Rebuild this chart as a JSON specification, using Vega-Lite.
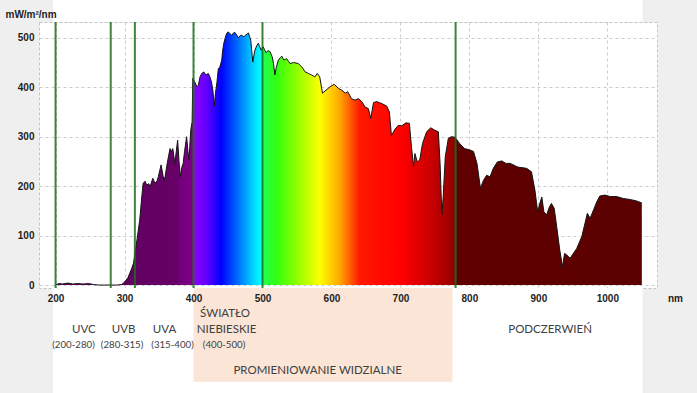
{
  "$schema": "https://vega.github.io/schema/vega-lite/v6.json",
  "width": 618,
  "height": 266,
  "autosize": {"type": "none"},
  "padding": {"left": 39, "top": 22, "right": 40, "bottom": 105},
  "background": "#efefef",
  "view": {"fill": "white", "stroke": "#c4c4c4", "strokeDash": [3, 2], "strokeWidth": 1},
  "datasets": {
    "spectrum": [
      {"nm": 200, "v": 0}, {"nm": 205, "v": 3}, {"nm": 210, "v": 2}, {"nm": 218, "v": 4}, {"nm": 225, "v": 2},
      {"nm": 232, "v": 3}, {"nm": 240, "v": 2}, {"nm": 248, "v": 3}, {"nm": 255, "v": 1}, {"nm": 262, "v": 0},
      {"nm": 275, "v": 0}, {"nm": 290, "v": 0}, {"nm": 296, "v": 1}, {"nm": 300, "v": 6}, {"nm": 305, "v": 15},
      {"nm": 310, "v": 32}, {"nm": 313, "v": 44}, {"nm": 318, "v": 91}, {"nm": 322, "v": 131}, {"nm": 325, "v": 178},
      {"nm": 327, "v": 206}, {"nm": 330, "v": 210}, {"nm": 332, "v": 202}, {"nm": 335, "v": 205}, {"nm": 337, "v": 199},
      {"nm": 341, "v": 216}, {"nm": 344, "v": 206}, {"nm": 347, "v": 210}, {"nm": 349, "v": 219}, {"nm": 353, "v": 243},
      {"nm": 357, "v": 212}, {"nm": 359, "v": 220}, {"nm": 361, "v": 239}, {"nm": 364, "v": 262}, {"nm": 366, "v": 276},
      {"nm": 368, "v": 270}, {"nm": 370, "v": 276}, {"nm": 373, "v": 246}, {"nm": 375, "v": 270}, {"nm": 377, "v": 293},
      {"nm": 379, "v": 250}, {"nm": 381, "v": 219}, {"nm": 383, "v": 238}, {"nm": 385, "v": 246}, {"nm": 387, "v": 270},
      {"nm": 390, "v": 300}, {"nm": 392, "v": 270}, {"nm": 393.5, "v": 253}, {"nm": 396, "v": 313}, {"nm": 398, "v": 330},
      {"nm": 399, "v": 418}, {"nm": 402, "v": 410}, {"nm": 405, "v": 401}, {"nm": 407, "v": 404}, {"nm": 409.5, "v": 421},
      {"nm": 412, "v": 428}, {"nm": 415, "v": 431}, {"nm": 418, "v": 425}, {"nm": 421.5, "v": 428}, {"nm": 424, "v": 420},
      {"nm": 426, "v": 411}, {"nm": 428, "v": 395}, {"nm": 430, "v": 362}, {"nm": 432, "v": 390}, {"nm": 434, "v": 410},
      {"nm": 436, "v": 438}, {"nm": 438, "v": 440}, {"nm": 441, "v": 455}, {"nm": 442, "v": 472}, {"nm": 444, "v": 489},
      {"nm": 446, "v": 500}, {"nm": 448, "v": 509}, {"nm": 450.5, "v": 512}, {"nm": 453, "v": 508}, {"nm": 455.5, "v": 505},
      {"nm": 458, "v": 510}, {"nm": 460, "v": 511}, {"nm": 463, "v": 505}, {"nm": 465, "v": 500}, {"nm": 468, "v": 505},
      {"nm": 470, "v": 505}, {"nm": 473, "v": 502}, {"nm": 475, "v": 505}, {"nm": 478, "v": 508}, {"nm": 479.5, "v": 510},
      {"nm": 482, "v": 500}, {"nm": 483, "v": 495}, {"nm": 485, "v": 465}, {"nm": 486, "v": 451}, {"nm": 488, "v": 468},
      {"nm": 489, "v": 475}, {"nm": 492, "v": 485}, {"nm": 494, "v": 489}, {"nm": 496, "v": 482}, {"nm": 498, "v": 475},
      {"nm": 501, "v": 482}, {"nm": 503, "v": 476}, {"nm": 505, "v": 470}, {"nm": 508, "v": 474}, {"nm": 511, "v": 472},
      {"nm": 514, "v": 462}, {"nm": 516, "v": 448}, {"nm": 518, "v": 425}, {"nm": 520, "v": 440}, {"nm": 523, "v": 455},
      {"nm": 526, "v": 460}, {"nm": 528, "v": 463}, {"nm": 531, "v": 455}, {"nm": 535, "v": 458}, {"nm": 538, "v": 452},
      {"nm": 540, "v": 448}, {"nm": 545, "v": 450}, {"nm": 552, "v": 448}, {"nm": 557, "v": 441}, {"nm": 562, "v": 431},
      {"nm": 566.5, "v": 428}, {"nm": 571, "v": 425}, {"nm": 576, "v": 421}, {"nm": 579.5, "v": 428}, {"nm": 583, "v": 421},
      {"nm": 587, "v": 388}, {"nm": 592, "v": 394}, {"nm": 598, "v": 401}, {"nm": 604, "v": 406}, {"nm": 610, "v": 398},
      {"nm": 615, "v": 394}, {"nm": 620, "v": 388}, {"nm": 623.6, "v": 391}, {"nm": 629, "v": 377}, {"nm": 634, "v": 374},
      {"nm": 639, "v": 377}, {"nm": 644, "v": 371}, {"nm": 648.7, "v": 360}, {"nm": 653.5, "v": 357}, {"nm": 657, "v": 337},
      {"nm": 661, "v": 369}, {"nm": 665.6, "v": 371}, {"nm": 673, "v": 367}, {"nm": 680, "v": 362}, {"nm": 684, "v": 350},
      {"nm": 687, "v": 302}, {"nm": 692, "v": 315}, {"nm": 697, "v": 323}, {"nm": 702, "v": 322}, {"nm": 708, "v": 328},
      {"nm": 713, "v": 327}, {"nm": 716, "v": 280}, {"nm": 719, "v": 239}, {"nm": 721, "v": 266}, {"nm": 724.5, "v": 249},
      {"nm": 728, "v": 253}, {"nm": 732, "v": 286}, {"nm": 738, "v": 310}, {"nm": 744, "v": 318}, {"nm": 750, "v": 313},
      {"nm": 755, "v": 310}, {"nm": 757.5, "v": 246}, {"nm": 760, "v": 142}, {"nm": 762, "v": 178}, {"nm": 765, "v": 259},
      {"nm": 769.5, "v": 297}, {"nm": 774, "v": 300}, {"nm": 779, "v": 299}, {"nm": 786, "v": 286}, {"nm": 793, "v": 276},
      {"nm": 801, "v": 273}, {"nm": 806, "v": 270}, {"nm": 811, "v": 246}, {"nm": 816, "v": 196}, {"nm": 820.5, "v": 212},
      {"nm": 825, "v": 222}, {"nm": 830, "v": 219}, {"nm": 834.7, "v": 236}, {"nm": 840.5, "v": 249}, {"nm": 847, "v": 251},
      {"nm": 853, "v": 246}, {"nm": 859, "v": 246}, {"nm": 864, "v": 243}, {"nm": 869, "v": 239}, {"nm": 873, "v": 238},
      {"nm": 883, "v": 236}, {"nm": 890, "v": 229}, {"nm": 895, "v": 192}, {"nm": 899, "v": 148}, {"nm": 902, "v": 165},
      {"nm": 905, "v": 178}, {"nm": 908, "v": 148}, {"nm": 912, "v": 142}, {"nm": 916, "v": 158}, {"nm": 919, "v": 165},
      {"nm": 923, "v": 155}, {"nm": 926.6, "v": 118}, {"nm": 931, "v": 71}, {"nm": 935, "v": 37}, {"nm": 938, "v": 64},
      {"nm": 941, "v": 61}, {"nm": 946, "v": 54}, {"nm": 955.6, "v": 74}, {"nm": 963, "v": 98}, {"nm": 967.6, "v": 125},
      {"nm": 971, "v": 145}, {"nm": 975, "v": 135}, {"nm": 980, "v": 152}, {"nm": 984.6, "v": 168}, {"nm": 989, "v": 180},
      {"nm": 996.6, "v": 182}, {"nm": 1004, "v": 179}, {"nm": 1013.6, "v": 179}, {"nm": 1023, "v": 175}, {"nm": 1033, "v": 173},
      {"nm": 1042.5, "v": 170}, {"nm": 1050, "v": 166}
    ],
    "bounds": [{"nm": 200}, {"nm": 280}, {"nm": 315}, {"nm": 400}, {"nm": 500}, {"nm": 780}],
    "names": [
      {"label": "UVC", "nm": 241, "v": -91},
      {"label": "UVB", "nm": 298.6, "v": -91},
      {"label": "UVA", "nm": 358, "v": -91},
      {"label": "ŚWIATŁO", "nm": 445.7, "v": -58.6},
      {"label": "NIEBIESKIE", "nm": 448, "v": -91},
      {"label": "PODCZERWIEŃ", "nm": 917, "v": -91},
      {"label": "PROMIENIOWANIE WIDZIALNE", "nm": 580, "v": -173.5}
    ],
    "ranges": [
      {"label": "(200-280)", "nm": 226, "v": -121.7},
      {"label": "(280-315)", "nm": 296.4, "v": -121.7},
      {"label": "(315-400)", "nm": 369.6, "v": -121.7},
      {"label": "(400-500)", "nm": 444.3, "v": -121.7}
    ],
    "visible": [{"start": 400, "end": 775.5}]
  },
  "layer": [
    {
      "data": {"name": "visible"},
      "mark": {"type": "rect", "fill": "white"},
      "encoding": {
        "x": {"datum": 196.4, "type": "quantitative", "scale": {"domain": [176, 1072], "nice": false, "zero": false}, "axis": null},
        "x2": {"datum": 1051},
        "y": {"datum": 532, "type": "quantitative", "scale": {"domain": [-6, 532], "nice": false, "zero": false}, "axis": null},
        "y2": {"datum": 620}
      }
    },
    {
      "data": {"name": "visible"},
      "mark": {"type": "rect", "fill": "white"},
      "encoding": {
        "x": {"datum": 196.4, "type": "quantitative", "scale": {"domain": [176, 1072], "nice": false, "zero": false}, "axis": null},
        "x2": {"datum": 1051},
        "y": {"datum": -6, "type": "quantitative", "scale": {"domain": [-6, 532], "nice": false, "zero": false}, "axis": null},
        "y2": {"datum": -250}
      }
    },
    {
      "data": {"name": "visible"},
      "mark": {"type": "rect", "fill": "#fbe5d6"},
      "encoding": {
        "x": {"field": "start", "type": "quantitative", "scale": {"domain": [176, 1072], "nice": false, "zero": false}, "axis": null},
        "x2": {"field": "end"},
        "y": {"datum": -6, "type": "quantitative", "scale": {"domain": [-6, 532], "nice": false, "zero": false}, "axis": null},
        "y2": {"datum": -195.5}
      }
    },
    {
      "data": {"name": "spectrum"},
      "mark": {
        "type": "area",
        "fill": {
          "gradient": "linear", "x1": 0, "y1": 0, "x2": 1, "y2": 0,
          "stops": [
            {"offset": 0, "color": "#5c005c"},
            {"offset": 0.2059, "color": "#660066"},
            {"offset": 0.2118, "color": "#74007a"},
            {"offset": 0.2341, "color": "#7e0088"},
            {"offset": 0.2353, "color": "#9200ff"},
            {"offset": 0.2588, "color": "#5e00ff"},
            {"offset": 0.2824, "color": "#0000ff"},
            {"offset": 0.3082, "color": "#0062ff"},
            {"offset": 0.3318, "color": "#00c0ff"},
            {"offset": 0.3494, "color": "#00ffff"},
            {"offset": 0.3553, "color": "#20ff50"},
            {"offset": 0.3765, "color": "#30ff10"},
            {"offset": 0.4118, "color": "#90ff00"},
            {"offset": 0.4506, "color": "#ffff00"},
            {"offset": 0.4847, "color": "#ffa800"},
            {"offset": 0.5188, "color": "#ff1800"},
            {"offset": 0.5882, "color": "#ff0000"},
            {"offset": 0.6388, "color": "#cc0000"},
            {"offset": 0.6788, "color": "#960000"},
            {"offset": 0.6835, "color": "#600000"},
            {"offset": 1, "color": "#5a0000"}
          ]
        }
      },
      "encoding": {
        "x": {
          "field": "nm", "type": "quantitative",
          "scale": {"domain": [176, 1072], "nice": false, "zero": false},
          "axis": {"orient": "bottom", "grid": true, "gridColor": "#cccccc", "gridDash": [3, 3], "gridWidth": 1, "labels": false, "ticks": false, "domain": false, "title": null, "values": [200, 300, 400, 500, 600, 700, 800, 900, 1000], "zindex": 0}
        },
        "y": {
          "field": "v", "type": "quantitative",
          "scale": {"domain": [-6, 532], "nice": false, "zero": false},
          "axis": {"orient": "left", "grid": true, "gridColor": "#cccccc", "gridDash": [3, 3], "gridWidth": 1, "labels": false, "ticks": false, "domain": false, "title": null, "values": [0, 100, 200, 300, 400, 500], "zindex": 0}
        },
        "y2": {"datum": 0}
      }
    },
    {
      "data": {"name": "spectrum"},
      "mark": {"type": "line", "stroke": "#141414", "strokeWidth": 1},
      "encoding": {
        "x": {
          "field": "nm", "type": "quantitative",
          "scale": {"domain": [176, 1072], "nice": false, "zero": false},
          "axis": {"orient": "bottom", "grid": false, "ticks": false, "domain": false, "values": [200, 300, 400, 500, 600, 700, 800, 900, 1000], "format": "d",
                   "labelFont": "Liberation Sans", "labelFontWeight": "bold", "labelFontSize": 10, "labelColor": "#1e1e1e", "labelPadding": 5,
                   "title": "nm", "titleFont": "Liberation Sans", "titleFontWeight": "bold", "titleFontSize": 10, "titleColor": "#1e1e1e",
                   "titleX": 636, "titleY": 10, "titleAlign": "center", "titleBaseline": "middle", "titleAngle": 0, "zindex": 1}
        },
        "y": {
          "field": "v", "type": "quantitative",
          "scale": {"domain": [-6, 532], "nice": false, "zero": false},
          "axis": {"orient": "left", "grid": false, "ticks": false, "domain": false, "values": [0, 100, 200, 300, 400, 500], "format": "d",
                   "labelFont": "Liberation Sans", "labelFontWeight": "bold", "labelFontSize": 10, "labelColor": "#1e1e1e", "labelPadding": 5,
                   "title": "mW/m²/nm", "titleFont": "Liberation Sans", "titleFontWeight": "bold", "titleFontSize": 10, "titleColor": "#1e1e1e",
                   "titleAngle": 0, "titleX": -34, "titleY": -8, "titleAlign": "left", "titleBaseline": "middle", "zindex": 1}
        }
      }
    },
    {
      "data": {"name": "bounds"},
      "mark": {"type": "rule", "stroke": "#1c6e1c", "strokeWidth": 2, "opacity": 0.85},
      "encoding": {
        "x": {"field": "nm", "type": "quantitative", "scale": {"domain": [176, 1072], "nice": false, "zero": false}, "axis": null}
      }
    },
    {
      "data": {"name": "names"},
      "mark": {"type": "text", "font": "Lato", "fontSize": 11.5, "fill": "#404040", "align": "center", "baseline": "middle"},
      "encoding": {
        "x": {"field": "nm", "type": "quantitative", "scale": {"domain": [176, 1072], "nice": false, "zero": false}, "axis": null},
        "y": {"field": "v", "type": "quantitative", "scale": {"domain": [-6, 532], "nice": false, "zero": false}, "axis": null},
        "text": {"field": "label"}
      }
    },
    {
      "data": {"name": "ranges"},
      "mark": {"type": "text", "font": "Lato", "fontSize": 9.7, "fill": "#404040", "align": "center", "baseline": "middle"},
      "encoding": {
        "x": {"field": "nm", "type": "quantitative", "scale": {"domain": [176, 1072], "nice": false, "zero": false}, "axis": null},
        "y": {"field": "v", "type": "quantitative", "scale": {"domain": [-6, 532], "nice": false, "zero": false}, "axis": null},
        "text": {"field": "label"}
      }
    }
  ],
  "resolve": {"axis": {"x": "independent", "y": "independent"}}
}
